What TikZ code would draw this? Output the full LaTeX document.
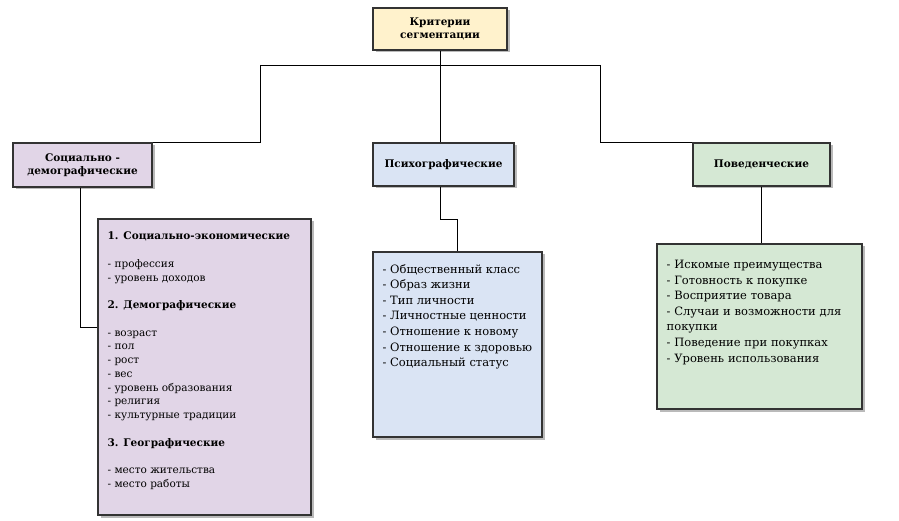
\documentclass[tikz,border=0pt]{standalone}
\usepackage{fontspec}
\setmainfont{DejaVu Serif}
\usetikzlibrary{shadows}
\definecolor{critfill}{HTML}{FFF2CC}
\definecolor{socfill}{HTML}{E1D5E7}
\definecolor{psyfill}{HTML}{DAE4F4}
\definecolor{behfill}{HTML}{D5E8D4}
\tikzset{
  font=\fontsize{11.5}{15.6}\selectfont,        % body text
  box/.style      = {rectangle, draw=black!80, line width=1.1pt, inner sep=0pt,
                     drop shadow={shadow xshift=2.5pt, shadow yshift=-2.5pt,
                                  fill=black!60, opacity=.45}},
  headbox/.style  = {box, align=center,
                     font=\bfseries\fontsize{10.5}{13}\selectfont},
  listtext/.style = {anchor=north west, align=left, inner sep=0pt},
  link/.style     = {draw=black, line width=0.9pt}
}
\begin{document}
\begin{tikzpicture}[x=1pt,y=-1pt]
  \useasboundingbox[fill=white] (0,0) rectangle (899,521);
  % header boxes
  \node[headbox, fill=critfill, minimum width=134pt, minimum height=42pt] (crit) at (440,29)
    {Критерии\\сегментации};
  \node[headbox, fill=socfill, minimum width=139pt, minimum height=44pt] (soc) at (82.5,165)
    {Социально -\\демографические};
  \node[headbox, fill=psyfill, minimum width=141pt, minimum height=43pt] (psy) at (443.5,164.5)
    {Психографические};
  \node[headbox, fill=behfill, minimum width=137pt, minimum height=43pt] (beh) at (761.5,164.5)
    {Поведенческие};
  % list boxes
  \node[box, fill=socfill, minimum width=213pt, minimum height=296pt] (soclist) at (204.5,367) {};
  \node[box, fill=psyfill, minimum width=169pt, minimum height=185pt] (psylist) at (457.5,344.5) {};
  \node[box, fill=behfill, minimum width=205pt, minimum height=165pt] (behlist) at (759.5,326.5) {};
  % list texts
  \node[listtext, font=\fontsize{10.5}{13.75}\selectfont] (soctext) at ([xshift=10pt,yshift=-13.5pt]soclist.north west)
    {\textbf{1. Социально-экономические}\\[13.75pt]
     - профессия\\
     - уровень доходов\\[13.75pt]
     \textbf{2. Демографические}\\[13.75pt]
     - возраст\\
     - пол\\
     - рост\\
     - вес\\
     - уровень образования\\
     - религия\\
     - культурные традиции\\[13.75pt]
     \textbf{3. Географические}\\[13.75pt]
     - место жительства\\
     - место работы};
  \node[listtext] (psytext) at ([xshift=10pt,yshift=-12.5pt]psylist.north west)
    {- Общественный класс\\
     - Образ жизни\\
     - Тип личности\\
     - Личностные ценности\\
     - Отношение к новому\\
     - Отношение к здоровью\\
     - Социальный статус};
  \node[listtext, text width=188pt] (behtext) at ([xshift=10pt,yshift=-16.5pt]behlist.north west)
    {- Искомые преимущества\\
     - Готовность к покупке\\
     - Восприятие товара\\
     - Случаи и возможности для покупки\\
     - Поведение при покупках\\
     - Уровень использования};
  % connectors
  \coordinate (busL) at (260,65);
  \coordinate (busR) at (600,65);
  \coordinate (psyKnee) at (440,219);
  \coordinate (socKnee) at (80,327);
  \draw[link] (crit.south) -- (crit.south |- psy.north);
  \draw[link] (busL) -- (busR);
  \draw[link] (busL) |- (soc.north east);
  \draw[link] (busR) |- (beh.north west);
  \draw[link] (psyKnee |- psy.south) -- (psyKnee) -| (psylist.north);
  \draw[link] (beh.south) -- (beh.south |- behlist.north);
  \draw[link] (socKnee |- soc.south) -- (socKnee) -- (socKnee -| soclist.west);
\end{tikzpicture}
\end{document}
